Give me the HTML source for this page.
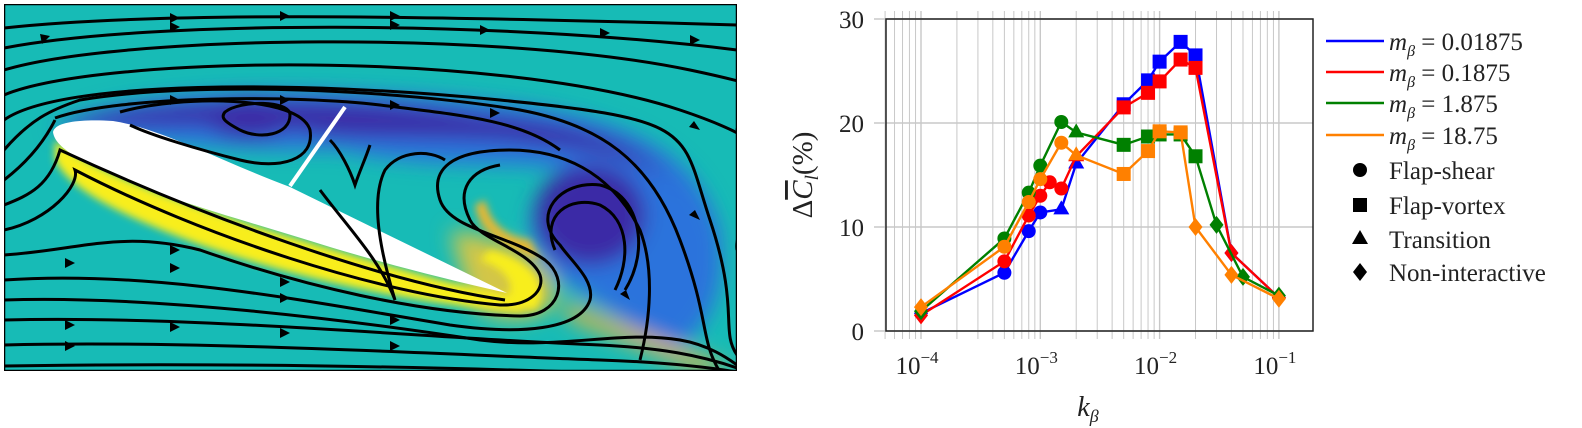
<!DOCTYPE html>
<html><head><meta charset="utf-8"><style>
body{margin:0;background:#fff;width:1582px;height:428px;overflow:hidden;font-family:"Liberation Serif",serif}
svg{position:absolute;left:0;top:0}
</style></head><body>
<svg width="1582" height="428">
<defs>
<filter id="b1" x="-20%" y="-20%" width="140%" height="140%"><feGaussianBlur stdDeviation="10"/></filter>
<filter id="b2" x="-20%" y="-20%" width="140%" height="140%"><feGaussianBlur stdDeviation="4"/></filter>
<clipPath id="cp"><rect x="4" y="4" width="733" height="367"/></clipPath>
</defs>
<g clip-path="url(#cp)">
<rect x="4" y="4" width="733" height="367" fill="#17bbb6"/>
<g filter="url(#b1)">
<path d="M50,130 C120,80 350,85 520,105 C640,120 700,160 720,230 C730,300 700,340 670,350 C630,330 600,300 560,280 C520,250 520,190 570,170 C500,160 420,170 340,150 L300,150 C220,150 120,140 50,130Z" fill="#2f6ce0" opacity="0.9"/>
<path d="M60,125 C150,95 350,95 480,115 C600,125 660,150 680,200 C670,160 600,150 500,140 C400,135 330,140 300,130 C200,120 120,130 60,125Z" fill="#3a2aa6"/>
<ellipse cx="590" cy="215" rx="55" ry="50" fill="#3a2aa6"/>
<ellipse cx="250" cy="118" rx="45" ry="20" fill="#3a2aa6"/>
<path d="M450,230 C520,240 560,270 555,300 C540,330 480,320 470,300 Z" fill="#e8c83a" opacity="0.9"/>
<path d="M560,300 L737,370 L700,372 L570,320Z" fill="#e3b440"/>
</g>
<g filter="url(#b2)">
<path d="M55,140 C100,175 200,210 330,248 C420,275 480,290 507,295 L525,312 C420,305 300,280 200,245 C120,215 70,190 55,160Z" fill="#f8ee1c"/>
<path d="M490,250 C535,260 550,290 535,310 L500,305 C520,290 510,270 480,260Z" fill="#f8ee1c"/>
<path d="M475,205 C480,240 520,255 540,260 L530,240 C500,235 490,220 485,200Z" fill="#e8b830"/>
</g>
<path d="M53,132 C55,122 80,119 113,121 C160,128 230,165 290,187 L507,293 C440,278 380,262 330,247 C250,222 170,200 130,182 C90,165 55,150 53,132Z" fill="#fff"/>
<line x1="290" y1="186" x2="345" y2="107" stroke="#fff" stroke-width="4"/>
<g fill="none" stroke="#000" stroke-width="3">
<path d="M4,28 C150,12 400,15 737,25"/>
<path d="M4,48 C150,20 500,20 737,50"/>
<path d="M4,70 C120,35 500,30 690,70 S737,110 737,130"/>
<path d="M4,95 C100,55 500,50 680,110 S730,200 737,250"/>
<path d="M4,120 C60,80 300,80 500,100 S680,130 710,220 S720,330 737,355"/>
<path d="M4,150 C30,120 50,110 80,100 C200,80 400,90 520,110 C600,125 650,160 680,240 S700,340 720,372"/>
<path d="M55,118 C120,95 300,95 380,105 C460,115 520,120 560,150"/>
<path d="M4,180 C30,160 45,140 55,120"/>
<path d="M120,112 C180,95 300,95 310,130 C315,160 280,170 240,160 C200,150 150,135 130,125"/>
<path d="M225,112 C240,100 290,100 290,115 C290,135 260,140 240,130 C225,122 220,118 225,112Z"/>
<path d="M330,140 C340,150 350,170 355,185 C360,170 365,160 370,145"/>
<path d="M320,190 C350,230 380,260 395,300 C380,250 370,200 385,170 C400,150 430,150 445,160"/>
<path d="M4,205 C30,195 50,185 60,150 C200,215 380,282 505,300"/>
<path d="M4,230 C50,220 80,185 75,170 C200,235 380,295 500,305 C530,306 545,290 540,275 C530,250 480,240 470,220 C455,190 470,170 500,165"/>
<path d="M4,255 C80,250 120,230 200,250 C300,285 420,314 520,316 C560,316 570,280 545,260 C510,235 450,230 440,200 C430,170 450,150 510,150 C560,150 610,170 640,230 C655,270 650,320 640,360"/>
<path d="M4,280 C150,270 300,300 450,325 C520,335 580,330 590,300 C595,280 570,260 560,245 C530,215 560,180 600,185 C640,195 650,250 625,290"/>
<path d="M555,250 C540,215 570,195 600,205 C630,220 630,260 615,290"/>
<path d="M4,300 C150,295 350,320 480,340 C560,350 620,330 680,340 C710,345 730,360 737,365"/>
<path d="M4,320 C200,315 450,340 600,345 C660,348 700,355 737,368"/>
<path d="M4,345 C200,340 450,355 600,360 C660,362 700,366 737,372"/>
<path d="M4,366 C250,362 500,368 737,378"/>
</g>
<g fill="#000">
<path d="M180,18 l-10,-5 l0,10z"/><path d="M400,16 l-10,-5 l0,10z"/><path d="M290,16 l-10,-5 l0,10z"/>
<path d="M50,36 l-10,-2 l2,10z"/><path d="M180,27 l-10,-5 l0,10z"/><path d="M400,25 l-10,-5 l0,10z"/>
<path d="M490,30 l-10,-5 l0,10z"/><path d="M610,33 l-10,-5 l0,10z"/><path d="M700,40 l-10,-5 l0,10z"/>
<path d="M180,100 l-10,-5 l0,10z"/><path d="M290,100 l-10,-5 l0,10z"/><path d="M400,105 l-10,-5 l0,10z"/><path d="M500,113 l-10,-5 l0,10z"/>
<path d="M75,263 l-10,-5 l0,10z"/><path d="M75,325 l-10,-5 l0,10z"/><path d="M75,346 l-10,-5 l0,10z"/>
<path d="M180,327 l-10,-5 l0,10z"/><path d="M290,333 l-10,-5 l0,10z"/><path d="M400,346 l-10,-5 l0,10z"/>
<path d="M180,268 l-10,-5 l0,10z"/><path d="M290,298 l-10,-5 l0,10z"/><path d="M400,320 l-10,-5 l0,10z"/>
<path d="M180,250 l-10,-5 l0,10z"/><path d="M290,282 l-10,-5 l0,10z"/>
<path d="M700,220 l-5,-10 l-6,5z"/><path d="M700,130 l-6,-9 l-5,6z"/><path d="M630,300 l-4,-10 l-6,4z"/>
</g>
<rect x="4" y="4" width="733" height="367" fill="none" stroke="#000" stroke-width="2.5"/>
</g>
<g id="chart"></g>
</svg>
<script>
const NS="http://www.w3.org/2000/svg";
const yTicks=[0,10,20,30];
const xTickExp=[-4,-3,-2,-1];
const seriesLabels=["0.01875","0.1875","1.875","18.75"];
const seriesColors=["#0000ff","#ff0000","#008000","#ff8000"];
const blueX=[1e-4,5e-4,8e-4,1e-3,1.5e-3,2e-3,5e-3,8e-3,1e-2,1.5e-2,2e-2,4e-2,1e-1];
const blueY=[1.7,5.6,9.6,11.4,11.7,16.1,21.8,24.1,25.9,27.8,26.5,7.5,3.2];
const blueM=["d","c","c","c","t","t","s","s","s","s","s","d","d"];
const redX=[1e-4,5e-4,8e-4,1e-3,1.2e-3,1.5e-3,2e-3,5e-3,8e-3,1e-2,1.5e-2,2e-2,4e-2,1e-1];
const redY=[1.5,6.7,11.1,13.0,14.3,13.7,16.8,21.5,22.9,24.0,26.1,25.3,7.5,3.2];
const redM=["d","c","c","c","c","c","t","s","s","s","s","s","d","d"];
const greenX=[1e-4,5e-4,8e-4,1e-3,1.5e-3,2e-3,5e-3,8e-3,1e-2,1.5e-2,2e-2,3e-2,5e-2,1e-1];
const greenY=[1.9,8.9,13.3,15.9,20.1,19.1,17.9,18.7,18.9,18.9,16.8,10.2,5.2,3.4];
const greenM=["d","c","c","c","c","t","s","s","s","s","s","d","d","d"];
const orangeX=[1e-4,5e-4,8e-4,1e-3,1.5e-3,2e-3,5e-3,8e-3,1e-2,1.5e-2,2e-2,4e-2,1e-1];
const orangeY=[2.3,8.1,12.4,14.6,18.1,16.9,15.1,17.3,19.2,19.1,10.0,5.4,3.1];
const orangeM=["d","c","c","c","c","t","s","s","s","s","d","d","d"];
const legendShapes=["c","s","t","d"];
const legendShapeLabels=["Flap-shear","Flap-vortex","Transition","Non-interactive"];

const L=886,R=1313,T=19,B=331,x0=921,dec=119.3;
const xs=v=>x0+(Math.log10(v)+4)*dec;
const ys=v=>B-(v/30)*(B-T);
const g=document.getElementById('chart');
function mk(tag,attrs,parent){const e=document.createElementNS(NS,tag);for(const k in attrs)e.setAttribute(k,attrs[k]);(parent||g).appendChild(e);return e;}
for(let e=-5;e<=-1;e++)for(let k=1;k<=9;k++){const v=k*Math.pow(10,e);const x=xs(v);if(x<L-1||x>R+1)continue;
 const ln=mk('line',{x1:x,x2:x,y1:11,y2:339,stroke:'#c8c8c8','stroke-width':k==1?1.4:1});
 
 }
yTicks.forEach(t=>{const ln=mk('line',{x1:874,x2:R,y1:ys(t),y2:ys(t),stroke:'#c8c8c8','stroke-width':1.4});
 
 
 const tx=mk('text',{x:864,y:ys(t)+9,'text-anchor':'end','font-size':25,fill:'#222'});tx.textContent=t;
 
 });
const box=mk('rect',{x:L,y:T,width:R-L,height:B-T,fill:'none',stroke:'#222','stroke-width':1.5});


xTickExp.forEach(e=>{const x=xs(Math.pow(10,e));
 const tx=mk('text',{x:x-4,y:374,'text-anchor':'middle','font-size':25,fill:'#222'});
 tx.innerHTML='10<tspan dy="-11" font-size="17">\u2212'+(-e)+'</tspan>';
 
 });
const xl=mk('text',{x:1088,y:416,'text-anchor':'middle','font-size':28,'font-style':'italic',fill:'#222'});
xl.innerHTML='k<tspan dy="6" font-size="18">\u03B2</tspan>';


const yl=mk('text',{x:0,y:0,'text-anchor':'middle','font-size':29,fill:'#222',transform:'translate(812,175) rotate(-90)'});
yl.innerHTML='\u0394<tspan font-style="italic" text-decoration="overline">C</tspan><tspan font-style="italic" dy="6" font-size="19">l</tspan><tspan dy="-6">(%)</tspan>';


function marker(shape,x,y,col,parent){let e;
 if(shape=='c')e=mk('circle',{cx:x,cy:y,r:7,fill:col},parent);
 else if(shape=='s')e=mk('rect',{x:x-7,y:y-7,width:14,height:14,fill:col},parent);
 else if(shape=='t')e=mk('polygon',{points:`${x},${y-9} ${x+8},${y+5} ${x-8},${y+5}`,fill:col},parent);
 else e=mk('polygon',{points:`${x},${y-9} ${x+7},${y} ${x},${y+9} ${x-7},${y}`,fill:col},parent);
 return e;}
const sets=[[blueX,blueY,blueM],[redX,redY,redM],[greenX,greenY,greenM],[orangeX,orangeY,orangeM]];
sets.forEach((s,i)=>{const grp=mk('g',{});
 
 
 const pts=s[0].map((v,j)=>xs(v)+','+ys(s[1][j])).join(' ');
 mk('polyline',{points:pts,fill:'none',stroke:seriesColors[i],'stroke-width':2.4},grp);
 s[0].forEach((v,j)=>{const m=marker(s[2][j],xs(v),ys(s[1][j]),seriesColors[i],grp);
  
  });});
const rows=[43,74,105,137,172,207,241,274];
seriesLabels.forEach((lab,i)=>{const y=rows[i];const lg=mk('g',{});
 
 
 mk('line',{x1:1326,x2:1384,y1:y-2,y2:y-2,stroke:seriesColors[i],'stroke-width':2.4},lg);
 const t=mk('text',{x:1389,y:y+7,'font-size':25,fill:'#222'},lg);
 t.innerHTML='<tspan font-style="italic">m</tspan><tspan dy="6" font-size="16" font-style="italic">\u03B2</tspan><tspan dy="-6"> = '+lab+'</tspan>';});
legendShapes.forEach((sh,i)=>{const y=rows[4+i];const lg=mk('g',{});
 
 
 marker(sh,1360,y-2,'#000',lg);
 const t=mk('text',{x:1389,y:y+7,'font-size':25,fill:'#222'},lg);t.textContent=legendShapeLabels[i];});
</script>
</body></html>
